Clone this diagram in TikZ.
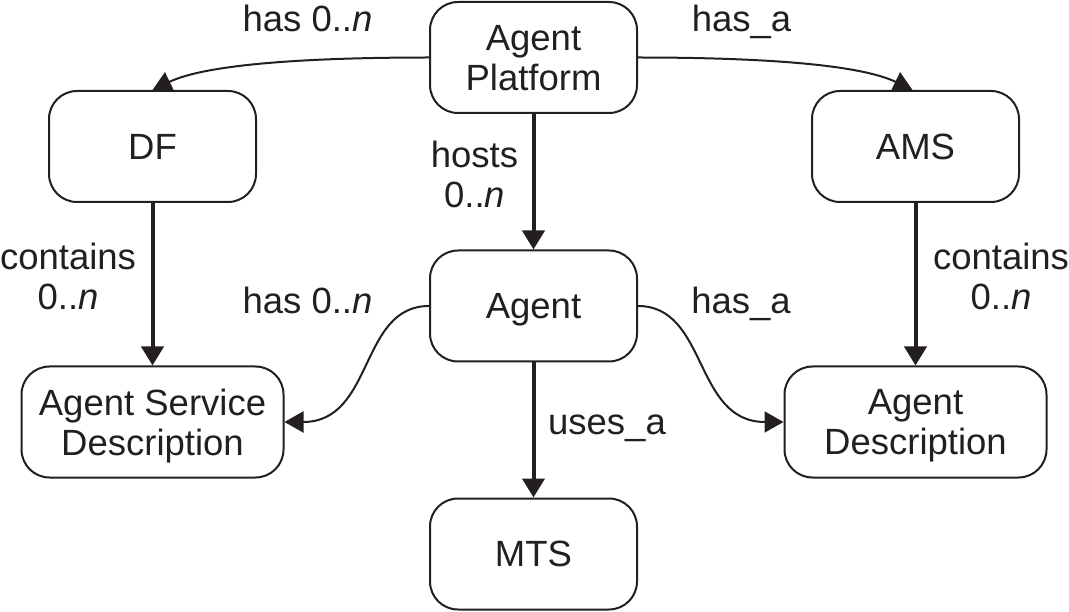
\documentclass[tikz,border=0pt]{standalone}
\usepackage{fontspec}
\setmainfont{Liberation Sans}
\usetikzlibrary{arrows.meta}
\definecolor{ink}{HTML}{231F20}
\begin{document}
\begin{tikzpicture}[x=1pt,y=-1pt,
  every node/.style={font=\fontsize{36.5}{40}\selectfont, text=ink},
  box/.style={draw=ink, line width=2pt, rounded corners=28pt, minimum width=207pt, minimum height=111pt, align=center, inner sep=0pt, text depth=0pt},
  widebox/.style={box, minimum width=262pt},
  lbl/.style={anchor=base, align=center, inner sep=0pt},
  thickarr/.style={draw=ink, line width=4pt, -{Triangle[length=19pt,width=22pt]}},
  curvearr/.style={draw=ink, line width=2pt, -{Triangle[length=19pt,width=21pt]}}
]
\useasboundingbox (0,0) rectangle (1069,612);
\node[box] (ap) at (533.5,57.5) {Agent\\Platform};
\node[box] (df) at (152.5,146.5) {DF};
\node[box] (ams) at (915.5,146.5) {AMS};
\node[box] (agent) at (533.5,306) {Agent};
\node[widebox] (asd) at (152.5,422) {Agent Service\\Description};
\node[widebox] (ad) at (915.5,422) {Agent\\Description};
\node[box] (mts) at (533.5,554) {MTS};

\draw[curvearr] (ap.west) .. controls +(-120,0) and +(54,-26) .. (df.north);
\draw[curvearr] (ap.east) .. controls +(120,0) and +(-54,-26) .. ([xshift=-3pt]ams.north);
\draw[thickarr] (ap.south) -- (agent.north);
\draw[thickarr] (df.south) -- (asd.north);
\draw[thickarr] (ams.south) -- (ad.north);
\draw[thickarr] (agent.south) -- (mts.north);
\draw[curvearr] (agent.west) .. controls +(-70,0) and +(90,0) .. (asd.east);
\draw[curvearr] (agent.east) .. controls +(70,0) and +(-90,0) .. (ad.west);

\node[lbl] (l1) at (307.5,32) {has 0..\textit{n}};
\node[lbl] (l2) at (741.5,32) {has\_a};
\node[lbl] (l3) at (474.5,208) {hosts\\0..\textit{n}};
\node[lbl] (l4) at (68,310) {contains\\0..\textit{n}};
\node[lbl] (l5) at (1001,310) {contains\\0..\textit{n}};
\node[lbl] (l6) at (307.5,314) {has 0..\textit{n}};
\node[lbl] (l7) at (741,314) {has\_a};
\node[lbl] (l8) at (607,435) {uses\_a};
\end{tikzpicture}
\end{document}
